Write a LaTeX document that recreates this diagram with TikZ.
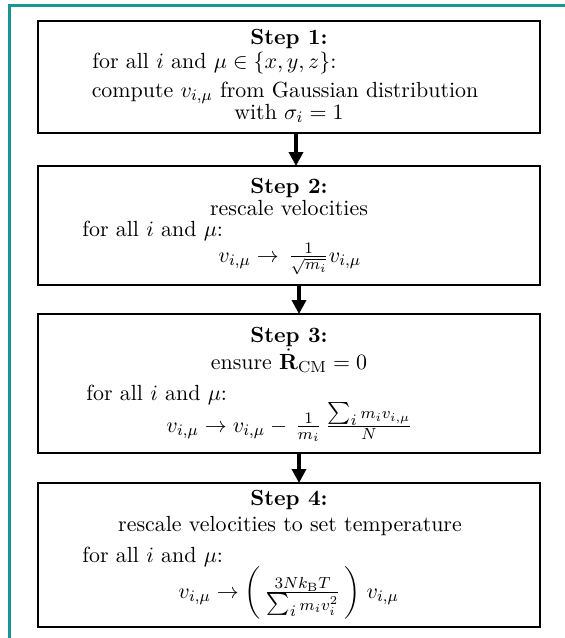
\documentclass[tikz,border=0pt]{standalone}
\usepackage{amsmath}
\usetikzlibrary{arrows.meta}
\definecolor{frameteal}{RGB}{22,150,148}
\begin{document}
\begin{tikzpicture}[x=0.5pt,y=-0.5pt,
  every node/.style={font=\fontsize{10.95}{13.6}\selectfont},
  stepbox/.style={draw,line width=1pt,inner sep=0pt,outer sep=0pt,minimum width=251pt},
  txt/.style={inner sep=0pt,anchor=base},
  txtl/.style={inner sep=0pt,anchor=base west},
  flow/.style={line width=2pt,-{Triangle[width=7pt,length=7pt]}}]
\useasboundingbox (0,0) rectangle (564,638);
\draw[frameteal,line width=1.5pt] (9.5,660) -- (9.5,5.5) -- (580,5.5);
% boxes
\node[stepbox,minimum height=56pt] (b1) at (289,77) {};
\node[stepbox,minimum height=59.5pt] (b2) at (289,225.5) {};
\node[stepbox,minimum height=69.5pt] (b3) at (289,383.5) {};
\node[stepbox,minimum height=72pt] (b4) at (289,555) {};
% box 1
\node[txt] (s1) at (289,44) {\textbf{Step 1:}};
\node[txtl] (s1a) at (92,68) {for all $i$ and $\mu\in\{x,y,z\}$:};
\node[txt] (s1b) at (285,97) {compute $v_{i,\mu}$ from Gaussian distribution};
\node[txt] (s1c) at (289,119) {with $\sigma_i=1$};
% box 2
\node[txt] (s2) at (289,193) {\textbf{Step 2:}};
\node[txt] (s2a) at (289,215) {rescale velocities};
\node[txtl] (s2b) at (82,236) {for all $i$ and $\mu$:};
\node[txtl] (s2c) at (218,262) {$v_{i,\mu}\to\,\frac{1}{\sqrt{m_i}}v_{i,\mu}$};
% box 3
\node[txt] (s3) at (289,342) {\textbf{Step 3:}};
\node[txt] (s3a) at (289,369) {ensure $\smash[t]{\dot{\mathbf{R}}}_{\mathrm{CM}}=0$};
\node[txtl] (s3b) at (86,400) {for all $i$ and $\mu$:};
\node[txtl] (s3c) at (166,432) {$v_{i,\mu}\to v_{i,\mu}-\,\frac{1}{m_i}\,\frac{\textstyle\sum_i \scriptstyle m_i v_{i,\mu}}{N}$};
% box 4
\node[txt] (s4) at (289,505) {\textbf{Step 4:}};
\node[txt] (s4a) at (290,531) {rescale velocities to set temperature};
\node[txtl] (s4b) at (82,562) {for all $i$ and $\mu$:};
\node[txtl] (s4c) at (178,598) {$v_{i,\mu}\to\bigg(\,\frac{3Nk_{\mathrm{B}}T}{\textstyle\sum_i \scriptstyle m_i v_i^2}\,\bigg)\;v_{i,\mu}$};
% arrows
\draw[flow] ([xshift=3.5pt]b1.south) -- ([xshift=3.5pt]b2.north);
\draw[flow] ([xshift=5pt]b2.south) -- ([xshift=5pt]b3.north);
\draw[flow] ([xshift=5pt]b3.south) -- ([xshift=5pt]b4.north);
\end{tikzpicture}
\end{document}
